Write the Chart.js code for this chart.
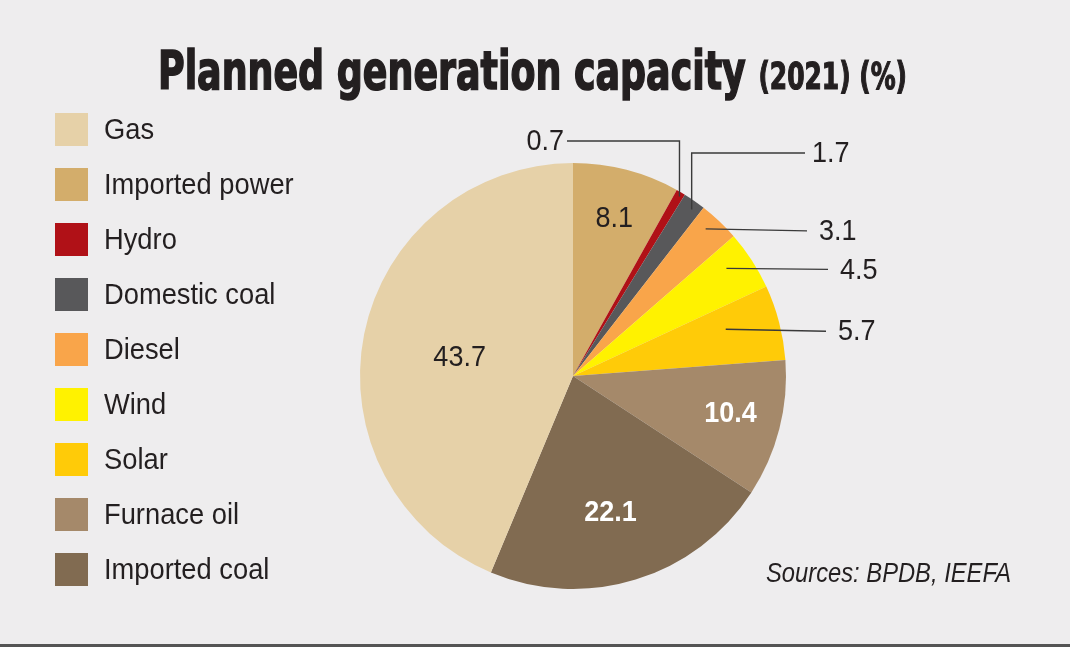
<!DOCTYPE html>
<html>
<head>
<meta charset="utf-8">
<script src="https://cdn.jsdelivr.net/npm/chart.js@4"></script>
<style>
  html, body { margin:0; padding:0; background:#eeedee; }
  #wrap { position:relative; width:1070px; height:647px; overflow:hidden; background:#eeedee; }
  #c { position:absolute; left:0; top:0; }
  .t { position:absolute; white-space:nowrap; color:#231f20; transform-origin:0 0; }
  #title { left:158px; top:44px; font-family:"DejaVu Sans Condensed","DejaVu Sans",sans-serif; font-weight:bold; font-size:54px; line-height:1; -webkit-text-stroke:1.6px #231f20; }
  #title .sub { font-size:37px; -webkit-text-stroke:1.2px #231f20; }
  #legend { position:absolute; left:55px; top:113px; }
  .row { position:absolute; left:0; height:33px; }
  .sw { position:absolute; left:0; top:0; width:33px; height:33px; }
  .lab { position:absolute; left:49px; top:-2px; font-family:"Liberation Sans",Arial,sans-serif; font-size:30px; line-height:36px; color:#231f20; white-space:nowrap; transform-origin:0 50%; transform:scaleX(0.91); }
  #source { left:766px; top:557px; font-family:"Liberation Sans",Arial,sans-serif; font-style:italic; font-size:27px; line-height:32px; }
  #rule { position:absolute; left:0; top:644px; width:1070px; height:3px; background:#545454; }
</style>
</head>
<body>
<div id="wrap">
  <canvas id="c" width="1070" height="647"></canvas>
  <div id="title" class="t">Planned generation capacity <span class="sub">(2021) (%)</span></div>
  <div id="legend"></div>
  <div id="source" class="t">Sources: BPDB, IEEFA</div>
  <div id="rule"></div>
</div>
<script>
// ---- data (pie order: clockwise from 12 o'clock) ----
const categories = ["Imported power","Hydro","Domestic coal","Diesel","Wind","Solar","Furnace oil","Imported coal","Gas"];
const values     = [8.1, 0.7, 1.7, 3.1, 4.5, 5.7, 10.4, 22.1, 43.7];
const colors     = ["#d3ad6b","#b01117","#58585a","#f9a54a","#fff200","#ffcb08","#a5896a","#816b51","#e6d1a8"];
// legend order as printed
const legendOrder = ["Gas","Imported power","Hydro","Domestic coal","Diesel","Wind","Solar","Furnace oil","Imported coal"];

// ---- label styling (positions relative to slices, not data) ----
const labelStyle = {
  "Imported power": {mode:"inside", t:0.5, r:0.77, color:"#231f20", bold:false},
  "Gas":            {mode:"inside", t:0.49, r:0.54, color:"#231f20", bold:false},
  "Imported coal":  {mode:"inside", t:0.52, r:0.66, color:"#ffffff", bold:true},
  "Furnace oil":    {mode:"inside", t:0.47, r:0.76, color:"#ffffff", bold:true},
  "Hydro":          {mode:"elbow", t:0.6, r:0.98, y:141, endX:567, side:"left"},
  "Domestic coal":  {mode:"elbow", t:0.62, r:0.96, y:153, endX:805, side:"right"},
  "Diesel":         {mode:"line", t:0.38, r:0.93, endX:807, dy:2},
  "Wind":           {mode:"line", t:0.37, r:0.88, endX:828, dy:1},
  "Solar":          {mode:"line", t:0.38, r:0.75, endX:826, dy:2}
};

// ---- legend ----
const legendEl = document.getElementById('legend');
legendOrder.forEach((name, i) => {
  const idx = categories.indexOf(name);
  const row = document.createElement('div');
  row.className = 'row';
  row.style.top = (i * 55) + 'px';
  row.innerHTML = '<div class="sw" style="background:' + colors[idx] + '"></div><div class="lab">' + name + '</div>';
  legendEl.appendChild(row);
});

function fit(el, w) {
  const r = el.getBoundingClientRect();
  el.style.transform = 'scaleX(' + (w / r.width) + ')';
}
fit(document.getElementById('title'), 749);
fit(document.getElementById('source'), 245);

const labelPlugin = {
  id: 'sliceLabels',
  afterDatasetsDraw(chart) {
    const ctx = chart.ctx;
    const meta = chart.getDatasetMeta(0);
    ctx.save();
    meta.data.forEach((arc, i) => {
      const name = categories[i];
      const st = labelStyle[name];
      if (!st) return;
      const p = arc.getProps(['x','y','startAngle','endAngle','outerRadius'], true);
      const a = p.startAngle + st.t * (p.endAngle - p.startAngle);
      const ax = p.x + Math.cos(a) * p.outerRadius * st.r;
      const ay = p.y + Math.sin(a) * p.outerRadius * st.r;
      const txt = values[i].toFixed(1);
      ctx.font = (st.bold ? 'bold ' : '') + '30px "Liberation Sans", Arial, sans-serif';
      ctx.textBaseline = 'middle';
      if (st.mode === 'inside') {
        ctx.fillStyle = st.color;
        ctx.textAlign = 'center';
        ctx.save();
        ctx.translate(ax, ay + 1);
        ctx.scale(0.9, 1);
        ctx.fillText(txt, 0, 0);
        ctx.restore();
        return;
      }
      ctx.strokeStyle = '#3a3a3a';
      ctx.lineWidth = 1.4;
      ctx.fillStyle = '#231f20';
      ctx.beginPath();
      let lx, ly;
      if (st.mode === 'elbow') {
        ctx.moveTo(ax, ay);
        ctx.lineTo(ax, st.y);
        ctx.lineTo(st.endX, st.y);
        ly = st.y;
        lx = st.side === 'left' ? st.endX - 3 : st.endX + 7;
        ctx.textAlign = st.side === 'left' ? 'right' : 'left';
      } else {
        ctx.moveTo(ax, ay);
        ctx.lineTo(st.endX, ay + st.dy);
        ly = ay + st.dy;
        lx = st.endX + 12;
        ctx.textAlign = 'left';
      }
      ctx.stroke();
      ctx.save();
      ctx.translate(lx, ly + 1);
      ctx.scale(0.9, 1);
      ctx.fillText(txt, 0, 0);
      ctx.restore();
    });
    ctx.restore();
  }
};

new Chart(document.getElementById('c'), {
  type: 'pie',
  data: {
    labels: categories,
    datasets: [{ data: values, backgroundColor: colors, borderWidth: 0 }]
  },
  options: {
    responsive: false,
    animation: false,
    layout: { padding: { left: 360, right: 284, top: 163, bottom: 58 } },
    plugins: { legend: { display: false }, tooltip: { enabled: false }, title: { display: false } }
  },
  plugins: [labelPlugin]
});
</script>
</body>
</html>
